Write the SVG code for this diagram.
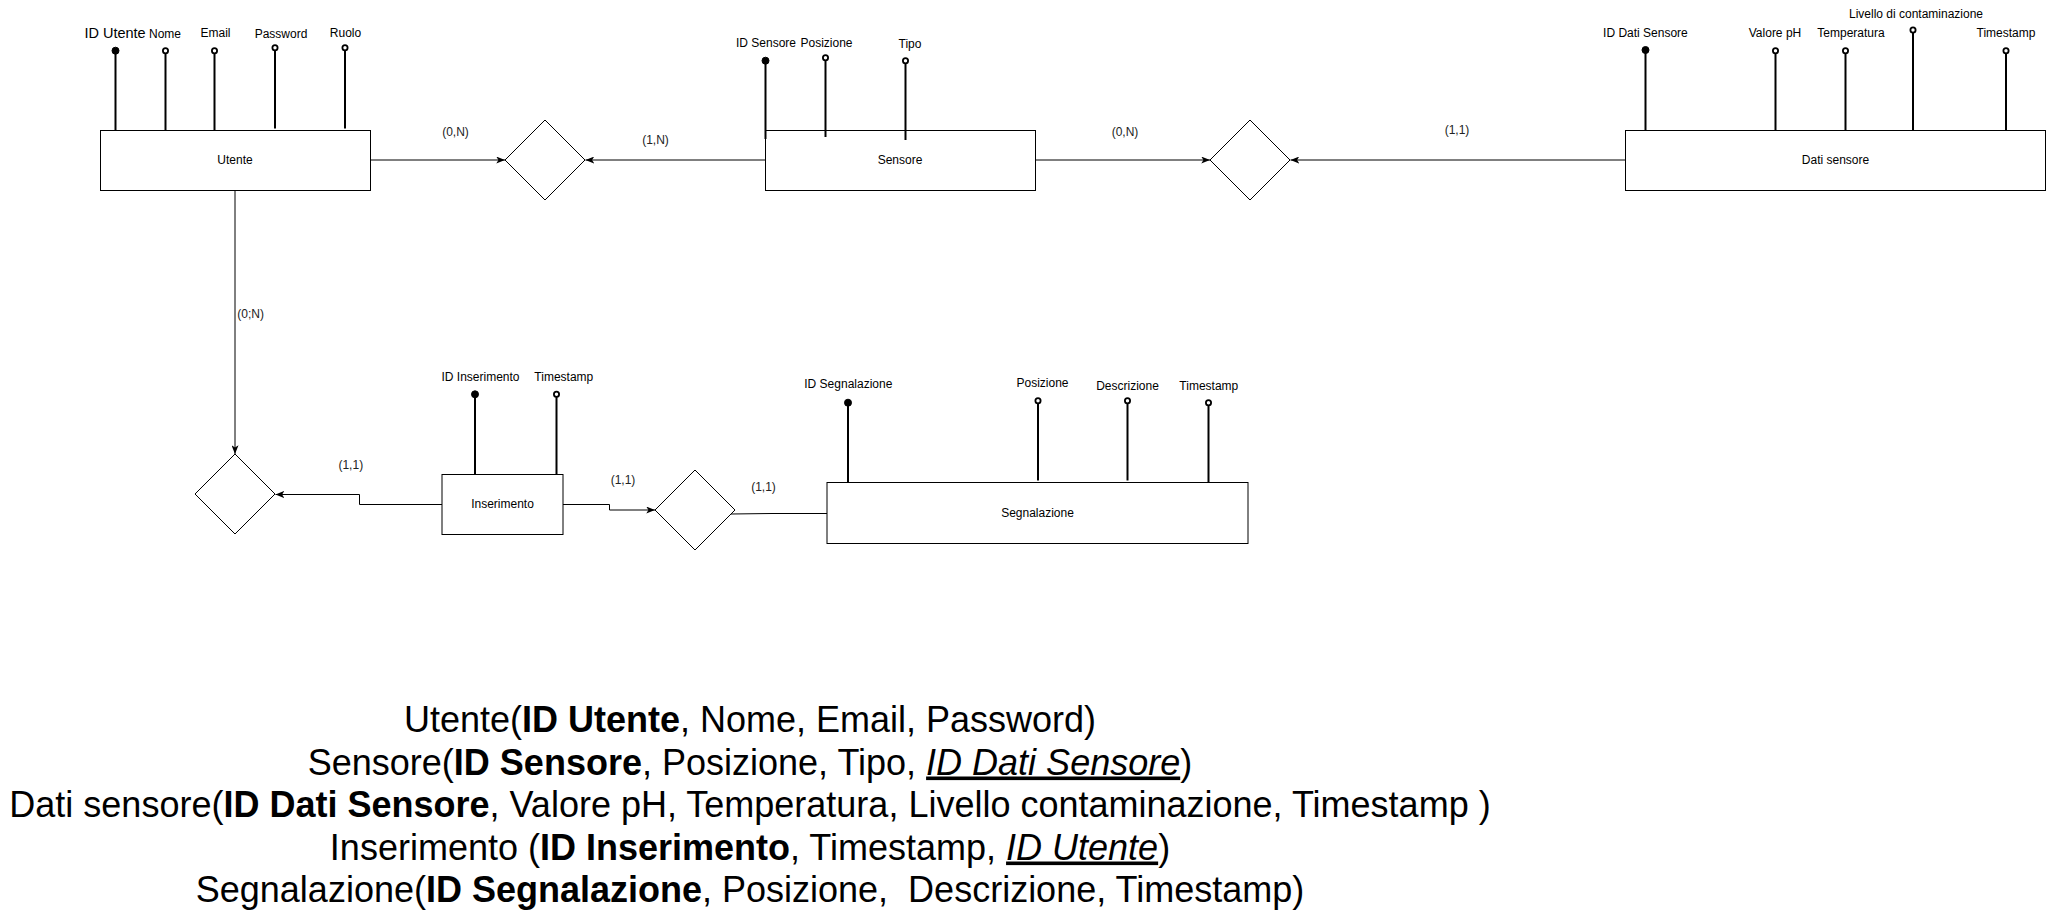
<svg xmlns="http://www.w3.org/2000/svg" width="2046" height="920" viewBox="0 0 2046 920">
<style>
text{font-family:"Liberation Sans",Arial,sans-serif;fill:#000}
.ent{fill:#fff;stroke:#000;stroke-width:1}
.rel{fill:#fff;stroke:#000;stroke-width:1}
.lbl{font-size:12px;text-anchor:middle}
.att{font-size:12px;text-anchor:middle}
.card{font-size:12px;text-anchor:middle;fill:#222}
.al{stroke:#000;stroke-width:2;fill:none}
.key{fill:#000;stroke:#000;stroke-width:1}
.opt{fill:#fff;stroke:#000;stroke-width:1.8}
.con{stroke:#000;stroke-width:1;fill:none}
.arr{marker-end:url(#arrow)}
.schema{font-size:36px;text-anchor:middle;white-space:pre}
.b{font-weight:bold}
.u{font-style:italic;text-decoration:underline}
</style>
<defs>
<marker id="arrow" viewBox="0 0 10 8" refX="10" refY="4" markerWidth="9" markerHeight="7" markerUnits="userSpaceOnUse" orient="auto">
<path d="M0,0 L10,4 L0,8 L2.5,4 Z" fill="#000"/>
</marker>
</defs>
<rect width="2046" height="920" fill="#fff"/>

<g id="connectors">
<path class="con arr" d="M370.5,160 L505,160"/>
<path class="con arr" d="M765.5,160 L585.5,160"/>
<path class="con arr" d="M1035.5,160 L1210,160"/>
<path class="con arr" d="M1625.5,160 L1290.5,160"/>
<path class="con arr" d="M235,190.5 L235,454"/>
<path class="con arr" d="M442,504.5 L359.5,504.5 L359.5,494.5 L275.5,494.5"/>
<path class="con arr" d="M563,504.5 L609.5,504.5 L609.5,510 L655,510"/>
<path class="con" d="M731,514 L772,513.5 L827,513.5"/>
</g>

<g id="utente">
<rect class="ent" x="100.5" y="130.5" width="270" height="60"/>
<text class="lbl" x="235" y="164">Utente</text>
<line class="al" x1="115.5" y1="50.7" x2="115.5" y2="130.5"/><circle class="key" cx="115.5" cy="50.7" r="3.5"/>
<text class="att" x="115" y="38" style="font-size:14.5px">ID Utente</text>
<line class="al" x1="165.5" y1="50.7" x2="165.5" y2="130.5"/><circle class="opt" cx="165.5" cy="50.7" r="2.6"/>
<text class="att" x="165" y="38">Nome</text>
<line class="al" x1="214.5" y1="50.7" x2="214.5" y2="130.5"/><circle class="opt" cx="214.5" cy="50.7" r="2.6"/>
<text class="att" x="215.5" y="36.7">Email</text>
<line class="al" x1="275" y1="47.7" x2="275" y2="128.5"/><circle class="opt" cx="275" cy="47.7" r="2.6"/>
<text class="att" x="281" y="38">Password</text>
<line class="al" x1="345" y1="47.7" x2="345" y2="128.5"/><circle class="opt" cx="345" cy="47.7" r="2.6"/>
<text class="att" x="345.5" y="36.7">Ruolo</text>
</g>

<g id="rel-utente-sensore">
<path class="rel" d="M545,120 L585,160 L545,200 L505,160 Z"/>
</g>

<g id="sensore">
<rect class="ent" x="765.5" y="130.5" width="270" height="60"/>
<text class="lbl" x="900" y="164">Sensore</text>
<line class="al" x1="765.5" y1="60.7" x2="765.5" y2="139"/><circle class="key" cx="765.5" cy="60.7" r="3.5"/>
<text class="att" x="766" y="46.7">ID Sensore</text>
<line class="al" x1="825.5" y1="57.7" x2="825.5" y2="137"/><circle class="opt" cx="825.5" cy="57.7" r="2.6"/>
<text class="att" x="826.5" y="46.7">Posizione</text>
<line class="al" x1="905.5" y1="60.7" x2="905.5" y2="140"/><circle class="opt" cx="905.5" cy="60.7" r="2.6"/>
<text class="att" x="910" y="48">Tipo</text>
</g>

<g id="rel-sensore-dati">
<path class="rel" d="M1250,120 L1290,160 L1250,200 L1210,160 Z"/>
</g>

<g id="dati-sensore">
<rect class="ent" x="1625.5" y="130.5" width="420" height="60"/>
<text class="lbl" x="1835.5" y="164">Dati sensore</text>
<line class="al" x1="1645.5" y1="50" x2="1645.5" y2="130.5"/><circle class="key" cx="1645.5" cy="50" r="3.5"/>
<text class="att" x="1645.4" y="37.3">ID Dati Sensore</text>
<line class="al" x1="1775.5" y1="50.7" x2="1775.5" y2="130.5"/><circle class="opt" cx="1775.5" cy="50.7" r="2.6"/>
<text class="att" x="1775" y="37">Valore pH</text>
<line class="al" x1="1845.5" y1="50.7" x2="1845.5" y2="130.5"/><circle class="opt" cx="1845.5" cy="50.7" r="2.6"/>
<text class="att" x="1851" y="37">Temperatura</text>
<line class="al" x1="1913" y1="30" x2="1913" y2="130.5"/><circle class="opt" cx="1913" cy="30" r="2.6"/>
<text class="att" x="1916" y="18.3">Livello di contaminazione</text>
<line class="al" x1="2006" y1="50.7" x2="2006" y2="130.5"/><circle class="opt" cx="2006" cy="50.7" r="2.6"/>
<text class="att" x="2006" y="37">Timestamp</text>
</g>

<g id="rel-utente-inserimento">
<path class="rel" d="M235,454 L275,494 L235,534 L195,494 Z"/>
</g>

<g id="inserimento">
<rect class="ent" x="442" y="474.5" width="121" height="60"/>
<text class="lbl" x="502.5" y="508">Inserimento</text>
<line class="al" x1="475" y1="394.3" x2="475" y2="474.5"/><circle class="key" cx="475" cy="394.3" r="3.5"/>
<text class="att" x="480.5" y="380.7">ID Inserimento</text>
<line class="al" x1="556.5" y1="394.3" x2="556.5" y2="474.5"/><circle class="opt" cx="556.5" cy="394.3" r="2.6"/>
<text class="att" x="563.8" y="380.7">Timestamp</text>
</g>

<g id="rel-inserimento-segnalazione">
<path class="rel" d="M695,470 L735,510 L695,550 L655,510 Z"/>
</g>

<g id="segnalazione">
<rect class="ent" x="827" y="482.5" width="421" height="61"/>
<text class="lbl" x="1037.5" y="517">Segnalazione</text>
<line class="al" x1="848" y1="402.7" x2="848" y2="482.5"/><circle class="key" cx="848" cy="402.7" r="3.5"/>
<text class="att" x="848.3" y="388.3">ID Segnalazione</text>
<line class="al" x1="1038" y1="400.7" x2="1038" y2="480.5"/><circle class="opt" cx="1038" cy="400.7" r="2.6"/>
<text class="att" x="1042.5" y="387.3">Posizione</text>
<line class="al" x1="1127.5" y1="400.7" x2="1127.5" y2="480.5"/><circle class="opt" cx="1127.5" cy="400.7" r="2.6"/>
<text class="att" x="1127.5" y="390">Descrizione</text>
<line class="al" x1="1208.5" y1="402.7" x2="1208.5" y2="482.5"/><circle class="opt" cx="1208.5" cy="402.7" r="2.6"/>
<text class="att" x="1208.8" y="390">Timestamp</text>
</g>

<g id="cardinalities">
<text class="card" x="455.5" y="136">(0,N)</text>
<text class="card" x="655.5" y="144">(1,N)</text>
<text class="card" x="1125" y="136">(0,N)</text>
<text class="card" x="1457" y="134">(1,1)</text>
<text class="card" x="250.7" y="318.3">(0;N)</text>
<text class="card" x="350.8" y="469">(1,1)</text>
<text class="card" x="623" y="484.3">(1,1)</text>
<text class="card" x="763.5" y="490.7">(1,1)</text>
</g>

<g id="schema">
<text class="schema" x="750" y="732">Utente(<tspan class="b">ID Utente</tspan>, Nome, Email, Password)</text>
<text class="schema" x="750" y="774.5">Sensore(<tspan class="b">ID Sensore</tspan>, Posizione, Tipo, <tspan class="u">ID Dati Sensore</tspan>)</text>
<text class="schema" x="750" y="817">Dati sensore(<tspan class="b">ID Dati Sensore</tspan>, Valore pH, Temperatura, Livello contaminazione, Timestamp )</text>
<text class="schema" x="750" y="859.5">Inserimento (<tspan class="b">ID Inserimento</tspan>, Timestamp, <tspan class="u">ID Utente</tspan>)</text>
<text class="schema" x="750" y="902">Segnalazione(<tspan class="b">ID Segnalazione</tspan>, Posizione,  Descrizione, Timestamp)</text>
</g>
</svg>
